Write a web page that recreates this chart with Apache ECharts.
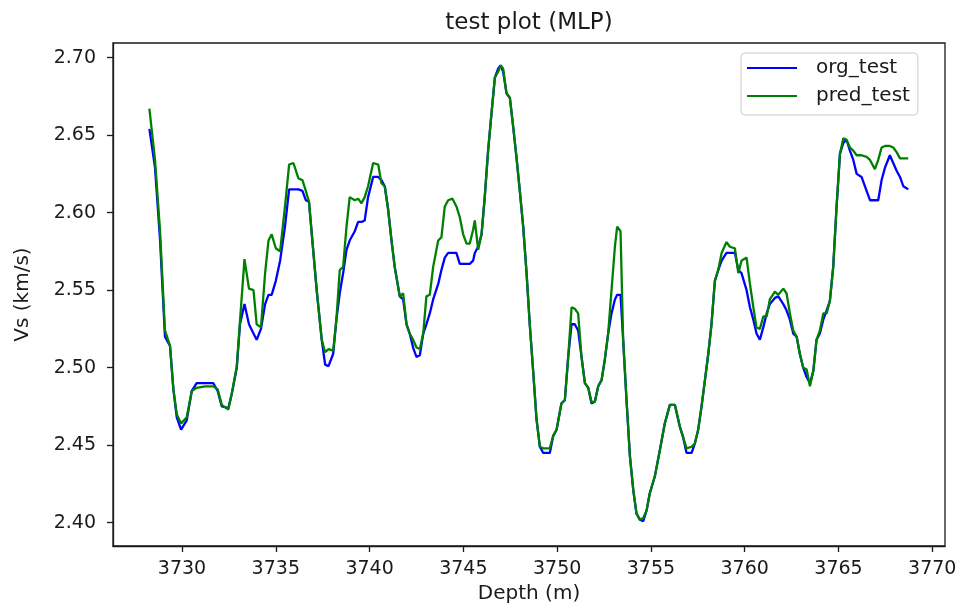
<!DOCTYPE html>
<html>
<head>
<meta charset="utf-8">
<script src="https://cdn.jsdelivr.net/npm/echarts@6/dist/echarts.min.js"></script>
<style>html,body{margin:0;padding:0;background:#fff}#c{width:960px;height:603px}</style>
</head>
<body>
<div id="c"></div>
<script>
const depth = [3728.26,3728.56,3728.83,3729.09,3729.36,3729.54,3729.72,3729.95,3730.25,3730.52,3730.78,3731.23,3731.67,3731.90,3732.12,3732.47,3732.65,3732.92,3733.09,3733.33,3733.57,3733.81,3733.98,3734.21,3734.43,3734.61,3734.78,3735.00,3735.23,3735.49,3735.71,3735.94,3736.21,3736.42,3736.60,3736.77,3736.92,3737.18,3737.45,3737.63,3737.81,3738.06,3738.23,3738.41,3738.59,3738.77,3738.94,3739.21,3739.39,3739.57,3739.74,3739.92,3740.19,3740.46,3740.63,3740.81,3740.99,3741.17,3741.34,3741.61,3741.79,3741.97,3742.14,3742.32,3742.50,3742.68,3742.86,3743.03,3743.21,3743.39,3743.66,3743.83,3744.01,3744.19,3744.42,3744.63,3744.81,3744.99,3745.17,3745.34,3745.52,3745.61,3745.79,3745.97,3746.14,3746.32,3746.50,3746.68,3746.86,3746.98,3747.12,3747.30,3747.48,3747.66,3747.83,3748.01,3748.19,3748.37,3748.54,3748.72,3748.90,3749.08,3749.26,3749.61,3749.79,3749.97,3750.23,3750.41,3750.59,3750.77,3750.94,3751.12,3751.30,3751.48,3751.66,3751.83,3752.01,3752.19,3752.37,3752.54,3752.72,3752.90,3753.08,3753.20,3753.38,3753.52,3753.70,3753.88,3754.06,3754.23,3754.41,3754.59,3754.77,3754.94,3755.21,3755.48,3755.74,3756.01,3756.28,3756.54,3756.72,3756.90,3757.17,3757.34,3757.52,3757.70,3757.88,3758.06,3758.23,3758.41,3758.59,3758.77,3759.03,3759.21,3759.48,3759.66,3759.83,3760.10,3760.28,3760.46,3760.63,3760.81,3760.99,3761.17,3761.34,3761.61,3761.79,3762.06,3762.23,3762.41,3762.59,3762.77,3762.94,3763.12,3763.30,3763.48,3763.66,3763.83,3764.01,3764.19,3764.37,3764.54,3764.72,3764.90,3765.08,3765.26,3765.43,3765.61,3765.79,3765.97,3766.23,3766.50,3766.68,3766.94,3767.12,3767.30,3767.48,3767.74,3767.92,3768.10,3768.28,3768.46,3768.72];

const orgTest = [2.654,2.629,2.582,2.520,2.514,2.486,2.468,2.460,2.466,2.485,2.490,2.490,2.490,2.485,2.475,2.474,2.483,2.500,2.528,2.541,2.528,2.522,2.518,2.525,2.541,2.547,2.547,2.556,2.569,2.591,2.615,2.615,2.615,2.614,2.608,2.607,2.586,2.550,2.518,2.502,2.501,2.509,2.531,2.548,2.561,2.576,2.582,2.588,2.594,2.594,2.595,2.610,2.623,2.623,2.621,2.617,2.602,2.582,2.565,2.546,2.544,2.528,2.522,2.513,2.507,2.508,2.522,2.528,2.535,2.544,2.554,2.563,2.571,2.574,2.574,2.574,2.567,2.567,2.567,2.567,2.569,2.574,2.578,2.586,2.610,2.640,2.664,2.687,2.693,2.695,2.691,2.677,2.674,2.655,2.636,2.614,2.591,2.561,2.528,2.498,2.467,2.449,2.445,2.445,2.456,2.460,2.477,2.479,2.507,2.528,2.528,2.524,2.507,2.490,2.487,2.477,2.478,2.488,2.492,2.505,2.522,2.535,2.544,2.547,2.547,2.518,2.479,2.443,2.421,2.406,2.402,2.401,2.408,2.419,2.430,2.447,2.464,2.476,2.476,2.462,2.455,2.445,2.445,2.451,2.460,2.475,2.492,2.509,2.528,2.556,2.563,2.569,2.574,2.574,2.574,2.563,2.561,2.550,2.539,2.531,2.522,2.518,2.526,2.535,2.541,2.545,2.546,2.541,2.537,2.531,2.522,2.520,2.509,2.500,2.494,2.490,2.498,2.518,2.522,2.531,2.537,2.543,2.565,2.604,2.638,2.645,2.647,2.640,2.634,2.625,2.623,2.614,2.608,2.608,2.608,2.621,2.629,2.637,2.632,2.627,2.623,2.617,2.615];

const predTest = [2.667,2.634,2.588,2.524,2.514,2.486,2.470,2.464,2.468,2.485,2.487,2.488,2.488,2.486,2.476,2.473,2.483,2.501,2.530,2.570,2.551,2.550,2.528,2.526,2.561,2.582,2.586,2.577,2.575,2.604,2.631,2.632,2.622,2.621,2.614,2.607,2.586,2.550,2.518,2.510,2.512,2.511,2.531,2.563,2.565,2.591,2.610,2.608,2.609,2.606,2.610,2.617,2.632,2.631,2.619,2.617,2.602,2.582,2.565,2.546,2.548,2.528,2.522,2.518,2.513,2.512,2.522,2.546,2.547,2.565,2.582,2.584,2.604,2.608,2.609,2.604,2.597,2.586,2.580,2.580,2.589,2.595,2.576,2.586,2.610,2.640,2.664,2.687,2.691,2.695,2.693,2.677,2.674,2.655,2.636,2.614,2.591,2.561,2.528,2.498,2.467,2.449,2.448,2.448,2.456,2.460,2.477,2.479,2.507,2.539,2.538,2.535,2.507,2.490,2.487,2.478,2.478,2.488,2.492,2.505,2.522,2.550,2.578,2.591,2.588,2.518,2.479,2.443,2.421,2.406,2.402,2.403,2.408,2.419,2.430,2.447,2.464,2.476,2.476,2.462,2.455,2.448,2.449,2.451,2.460,2.475,2.492,2.509,2.528,2.556,2.563,2.574,2.581,2.578,2.577,2.561,2.569,2.571,2.554,2.539,2.526,2.525,2.533,2.533,2.544,2.549,2.547,2.551,2.548,2.535,2.524,2.520,2.509,2.500,2.499,2.488,2.498,2.518,2.524,2.535,2.535,2.543,2.565,2.604,2.638,2.648,2.647,2.642,2.640,2.637,2.637,2.636,2.634,2.628,2.634,2.642,2.643,2.643,2.642,2.639,2.635,2.635,2.635];

const xTicks = [3730,3735,3740,3745,3750,3755,3760,3765,3770];
const yTicks = [2.40,2.45,2.50,2.55,2.60,2.65,2.70];

const orgData = depth.map((d, i) => [d, orgTest[i]]);
const predData = depth.map((d, i) => [d, predTest[i]]);

const FONT = 'DejaVu Sans';
const chart = echarts.init(document.getElementById('c'), null, {renderer: 'canvas'});
chart.setOption({
  animation: false,
  backgroundColor: '#ffffff',
  title: {
    text: 'test plot (MLP)',
    left: 529, top: 12, textAlign: 'center', padding: 0,
    textStyle: {fontFamily: FONT, fontSize: 23, fontWeight: 'normal', color: '#1a1a1a'}
  },
  legend: {
    left: 741, top: 53, orient: 'vertical',
    itemWidth: 50, itemHeight: 18, itemGap: 8,
    icon: 'path://M0,0L50,0L50,2.2L0,2.2Z',
    symbolKeepAspect: true,
    padding: [5, 8, 9, 6],
    backgroundColor: 'rgba(255,255,255,0.8)',
    borderColor: '#cccccc', borderWidth: 1, borderRadius: 4,
    textStyle: {fontFamily: FONT, fontSize: 20, color: '#1a1a1a', padding: [0, 0, 0, 14], width: 108},
    data: ['org_test', 'pred_test']
  },
  grid: {
    left: 113, right: 15, top: 43, bottom: 57,
    outerBoundsMode: 'none', containLabel: false,
    show: true, borderColor: '#1a1a1a', borderWidth: 1.3, backgroundColor: '#fff'
  },
  xAxis: {
    type: 'value', min: 3726.32, max: 3770.68,
    name: 'Depth (m)', nameLocation: 'middle', nameGap: 38,
    nameTextStyle: {fontFamily: FONT, fontSize: 20, color: '#1a1a1a'},
    axisLine: {show: true, onZero: false, lineStyle: {color: '#1a1a1a', width: 1.3}},
    axisTick: {show: true, inside: false, length: 6, customValues: xTicks, lineStyle: {color: '#1a1a1a', width: 1.3}},
    axisLabel: {customValues: xTicks, margin: 14, fontFamily: FONT, fontSize: 19, color: '#1a1a1a',
      formatter: v => String(Math.round(v))},
    splitLine: {show: false}
  },
  yAxis: {
    type: 'value', min: 2.385, max: 2.7094,
    name: 'Vs (km/s)', nameLocation: 'middle', nameGap: 80, nameRotate: 90,
    nameTextStyle: {fontFamily: FONT, fontSize: 20, color: '#1a1a1a'},
    axisLine: {show: true, onZero: false, lineStyle: {color: '#1a1a1a', width: 1.3}},
    axisTick: {show: true, inside: false, length: 6, customValues: yTicks, lineStyle: {color: '#1a1a1a', width: 1.3}},
    axisLabel: {customValues: yTicks, margin: 17, fontFamily: FONT, fontSize: 19, color: '#1a1a1a',
      formatter: v => Number(v).toFixed(2)},
    splitLine: {show: false}
  },
  series: [
    {name: 'org_test', type: 'line', data: orgData, symbol: 'none', showSymbol: false,
      lineStyle: {color: '#0000ff', width: 2.3}, itemStyle: {color: '#0000ff'}, z: 2},
    {name: 'pred_test', type: 'line', data: predData, symbol: 'none', showSymbol: false,
      lineStyle: {color: '#008000', width: 2.3}, itemStyle: {color: '#008000'}, z: 3}
  ]
});
</script>
</body>
</html>
